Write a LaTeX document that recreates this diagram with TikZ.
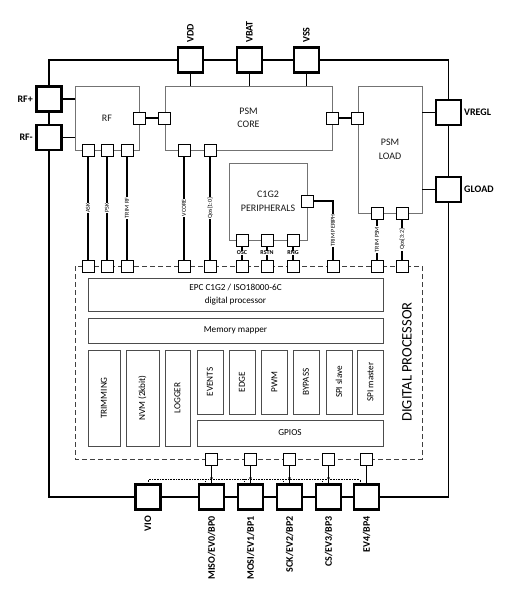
\documentclass[tikz,border=0pt]{standalone}
\usepackage{fontspec}
\setmainfont{Carlito}
\begin{document}
\begin{tikzpicture}[x=1pt,y=-1pt,
  pin/.style={draw,line width=2.4pt,minimum size=25pt,inner sep=0pt,fill=white},
  pad/.style={draw,line width=0.9pt,minimum size=12pt,inner sep=0pt,fill=white},
  blk/.style={draw=black!55,line width=0.8pt,inner sep=0pt,align=center,font=\fontsize{10}{13.5}\selectfont,text=black!90},
  unit/.style={draw=black!70,line width=0.6pt,inner sep=0pt,align=center,font=\fontsize{9.2}{13.5}\selectfont,text=black},
  wire/.style={line width=1.3pt},
  sig/.style={fill=white,inner sep=0.6pt,rotate=90,font=\fontsize{6}{6}\selectfont},
  tag/.style={fill=white,inner sep=0.5pt,font=\fontsize{6}{6}\selectfont\bfseries},
  pinlbl/.style={inner sep=1pt,font=\fontsize{10}{11}\selectfont\bfseries}]
\useasboundingbox (0,0) rectangle (514,594);
\node[pin] (vdd) at (190.5,60) {};
\node[pin] (vbat) at (249.5,60) {};
\node[pin] (vss) at (306.5,60) {};
\node[pin] (rfp) at (49,99) {};
\node[pin] (rfm) at (49,137.5) {};
\node[pin] (vregl) at (448.5,112.5) {};
\node[pin] (gload) at (448.5,189.5) {};
\node[pin] (vio) at (148,497) {};
\node[pin] (miso) at (211.5,497) {};
\node[pin] (mosi) at (250.5,497) {};
\node[pin] (sck) at (289.5,497) {};
\node[pin] (cs) at (328.5,497) {};
\node[pin] (ev4) at (366.5,497) {};
\node[pinlbl,rotate=90,anchor=west] at (190.5,44) {VDD};
\node[pinlbl,rotate=90,anchor=west] at (249.5,44) {VBAT};
\node[pinlbl,rotate=90,anchor=west] at (306.5,44) {VSS};
\node[pinlbl,anchor=east] at (34,99) {RF+};
\node[pinlbl,anchor=east] at (34,137.5) {RF-};
\node[pinlbl,anchor=west] at (463,112.5) {VREGL};
\node[pinlbl,anchor=west] at (463,189.5) {GLOAD};
\node[pinlbl,rotate=90,anchor=east] at (148,515) {VIO};
\node[pinlbl,rotate=90,anchor=east] at (211.5,515) {MISO/EV0/BP0};
\node[pinlbl,rotate=90,anchor=east] at (250.5,515) {MOSI/EV1/BP1};
\node[pinlbl,rotate=90,anchor=east] at (289.5,515) {SCK/EV2/BP2};
\node[pinlbl,rotate=90,anchor=east] at (328.5,515) {CS/EV3/BP3};
\node[pinlbl,rotate=90,anchor=east] at (366.5,515) {EV4/BP4};
\draw[wire] (rfp.north) |- (vdd.west);
\draw[wire] (vdd.east) -- (vbat.west);
\draw[wire] (vbat.east) -- (vss.west);
\draw[wire] (vss.east) -| (vregl.north);
\draw[wire] (rfp.south) -- (rfm.north);
\draw[wire] (vregl.south) -- (gload.north);
\draw[wire] (rfm.south) |- (vio.west);
\draw[wire] (vio.east) -- (miso.west);
\draw[wire] (miso.east) -- (mosi.west);
\draw[wire] (mosi.east) -- (sck.west);
\draw[wire] (sck.east) -- (cs.west);
\draw[wire] (cs.east) -- (ev4.west);
\draw[wire] (ev4.east) -| (gload.south);
\node[blk,minimum width=64,minimum height=64] (rf) at (107,118) {RF};
\node[blk,minimum width=167,minimum height=64] (core) at (248.5,118) {PSM\\CORE};
\node[blk,minimum width=64,minimum height=127] (load) at (390,149.5) {PSM\\LOAD};
\node[blk,minimum width=78,minimum height=77] (periph) at (268,201.5) {C1G2\\PERIPHERALS};
\draw[wire] (vdd.south) -- (vdd |- core.north);
\draw[wire] (vbat.south) -- (vbat |- core.north);
\draw[wire] (vss.south) -- (vss |- core.north);
\draw[wire] (rfp.east) -- (rfp -| rf.west);
\draw[wire] (rfm.east) -- (rfm -| rf.west);
\draw[wire] (vregl.west) -- (vregl -| load.east);
\draw[wire] (gload.west) -- (gload -| load.east);
\node[pad] (rfo) at (rf.east) {};
\node[pad] (corei) at (core.west) {};
\node[pad] (coreo) at (core.east) {};
\node[pad] (loadi) at (load.west |- coreo) {};
\draw[wire] (rfo) -- (corei);
\draw[wire] (coreo) -- (loadi);
\draw[dash pattern=on 5pt off 3pt,line width=0.8pt,black!75] (75,266) rectangle (422,459);
\node[pad] (ask) at (88,150) {};
\node[pad] (psk) at (107,150) {};
\node[pad] (trimrf) at (127,150) {};
\node[pad] (vcore) at (184,150) {};
\node[pad] (qosa) at (210,150) {};
\node[pad] (osc) at (242,240) {};
\node[pad] (rstn) at (267,240) {};
\node[pad] (rng) at (293,240) {};
\node[pad] (trimper) at (307,201) {};
\node[pad] (trimpsm) at (377,213) {};
\node[pad] (qosb) at (402,213) {};
\node[pad] (dask) at (88,266) {};
\node[pad] (dpsk) at (107,266) {};
\node[pad] (dtrimrf) at (127,266) {};
\node[pad] (dvcore) at (184,266) {};
\node[pad] (dqosa) at (210,266) {};
\node[pad] (dosc) at (242,266) {};
\node[pad] (drstn) at (267,266) {};
\node[pad] (drng) at (293,266) {};
\node[pad] (dtrimper) at (333,266) {};
\node[pad] (dtrimpsm) at (377,266) {};
\node[pad] (dqosb) at (402,266) {};
\node[pad] (dmiso) at (211.5,459) {};
\node[pad] (dmosi) at (250.5,459) {};
\node[pad] (dsck) at (289.5,459) {};
\node[pad] (dcs) at (328.5,459) {};
\node[pad] (dev4) at (366.5,459) {};
\draw[wire] (ask) -- node[sig] {ASK} (dask);
\draw[wire] (psk) -- node[sig] {PSK} (dpsk);
\draw[wire] (trimrf) -- node[sig] {TRIM RF} (dtrimrf);
\draw[wire] (vcore) -- node[sig] {VCORE} (dvcore);
\draw[wire] (qosa) -- node[sig] {Qos[1:0]} (dqosa);
\draw[wire] (osc) -- node[tag] {OSC} (dosc);
\draw[wire] (rstn) -- node[tag] {RSTN} (drstn);
\draw[wire] (rng) -- node[tag] {RNG} (drng);
\draw[wire] (trimper.east) -| node[sig,pos=0.75] {TRIM PERIPH} (dtrimper);
\draw[wire] (trimpsm) -- node[sig] {TRIM PSM} (dtrimpsm);
\draw[wire] (qosb) -- node[sig] {Qos[3:2]} (dqosb);
\draw[wire] (dmiso) -- (miso);
\draw[wire] (dmosi) -- (mosi);
\draw[wire] (dsck) -- (sck);
\draw[wire] (dcs) -- (cs);
\draw[wire] (dev4) -- (ev4);
\draw[densely dotted,line width=0.6pt] (vio.north) |- ([xshift=7pt,yshift=4pt]ev4.north west) -- ([xshift=7pt]ev4.north west);
\draw[densely dotted,line width=0.6pt] ([xshift=7pt,yshift=4pt]miso.north west) -- ([xshift=7pt]miso.north west);
\draw[densely dotted,line width=0.6pt] ([xshift=7pt,yshift=4pt]mosi.north west) -- ([xshift=7pt]mosi.north west);
\draw[densely dotted,line width=0.6pt] ([xshift=7pt,yshift=4pt]sck.north west) -- ([xshift=7pt]sck.north west);
\draw[densely dotted,line width=0.6pt] ([xshift=7pt,yshift=4pt]cs.north west) -- ([xshift=7pt]cs.north west);
\fill (211.5,478) circle (1.3);
\fill (250.5,478) circle (1.3);
\fill (289.5,478) circle (1.3);
\fill (328.5,478) circle (1.3);
\node[unit,minimum width=295,minimum height=33] (epc) at (235.5,294.5) {EPC C1G2 / ISO18000-6C\\digital processor};
\node[unit,minimum width=295,minimum height=25] (mapper) at (235.5,330.5) {Memory mapper};
\node[unit,rotate=90,minimum width=96,minimum height=32] (trimming) at (104,398) {TRIMMING};
\node[unit,rotate=90,minimum width=96,minimum height=33] (nvm) at (142.5,398) {NVM (2kbit)};
\node[unit,rotate=90,minimum width=96,minimum height=25] (logger) at (177.5,398) {LOGGER};
\node[unit,rotate=90,minimum width=64,minimum height=26] (events) at (210,382) {EVENTS};
\node[unit,rotate=90,minimum width=64,minimum height=26] (edge) at (242,382) {EDGE};
\node[unit,rotate=90,minimum width=64,minimum height=26] (pwm) at (274.5,382) {PWM};
\node[unit,rotate=90,minimum width=64,minimum height=26] (bypass) at (306,382) {BYPASS};
\node[unit,rotate=90,minimum width=64,minimum height=26] (spis) at (339,382) {SPI slave};
\node[unit,rotate=90,minimum width=64,minimum height=26] (spim) at (370.5,382) {SPI master};
\node[unit,minimum width=186,minimum height=26] (gpios) at (290,433) {GPIOS};
\node[rotate=90,font=\fontsize{14.5}{14.5}\selectfont,text=black] (dp) at (407,362) {DIGITAL PROCESSOR};
\end{tikzpicture}
\end{document}
